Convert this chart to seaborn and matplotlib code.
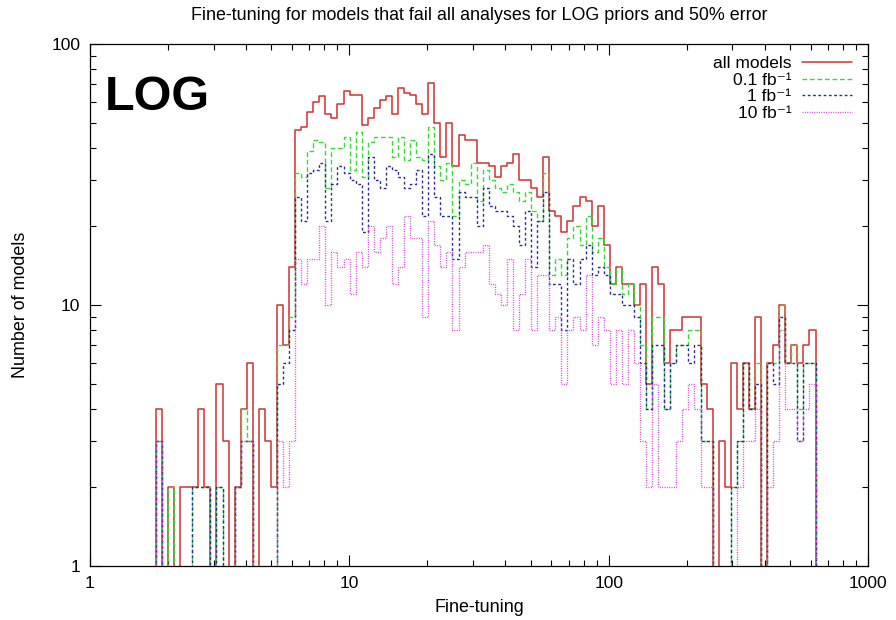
import numpy as np
import matplotlib
matplotlib.use('Agg')
import matplotlib.pyplot as plt
import seaborn as sns

# counts per log-spaced bin (109 bins, from ~1.8 to ~630)
all_models = [4, 0, 2, 0, 2, 2, 2, 4, 2, 0, 5, 3, 0, 2, 4, 6, 0, 4, 3, 2,
              10, 7, 14, 47, 48, 55, 60, 63, 54, 52, 59, 66, 64, 64, 49, 52, 57, 61, 63, 54,
              68, 65, 64, 59, 54, 71, 50, 37, 50, 34, 45, 43, 43, 35, 35, 34, 31, 34, 35, 38,
              30, 30, 28, 26, 37, 23, 22, 19, 21, 24, 26, 25, 20, 24, 17, 12, 14, 12, 12, 10,
              12, 5, 14, 12, 6, 8, 8, 9, 9, 9, 5, 4, 0, 3, 2, 6, 4, 6, 4, 9,
              0, 6, 7, 10, 6, 7, 6, 7, 8]
lumi_01 = [3, 0, 2, 0, 0, 0, 2, 2, 2, 0, 2, 0, 0, 2, 4, 3, 0, 0, 0, 0,
           7, 7, 9, 32, 31, 39, 43, 42, 28, 40, 40, 44, 33, 46, 31, 42, 44, 44, 44, 37,
           44, 36, 43, 37, 36, 48, 34, 30, 35, 22, 30, 29, 35, 25, 33, 30, 28, 27, 29, 27,
           25, 27, 23, 21, 32, 13, 15, 13, 18, 20, 17, 22, 16, 18, 14, 12, 14, 11, 12, 10,
           7, 4, 9, 9, 4, 6, 7, 7, 8, 8, 3, 3, 0, 0, 0, 2, 3, 6, 4, 6,
           0, 6, 6, 10, 6, 7, 4, 6, 6]
lumi_1 = [3, 0, 0, 0, 0, 0, 2, 2, 2, 0, 2, 0, 0, 2, 3, 3, 0, 0, 0, 0,
          5, 6, 8, 26, 21, 32, 33, 35, 21, 29, 34, 32, 30, 29, 19, 37, 30, 28, 34, 33,
          31, 28, 29, 33, 22, 38, 26, 22, 22, 15, 27, 26, 26, 20, 28, 24, 23, 23, 22, 20,
          17, 23, 14, 21, 27, 12, 12, 8, 15, 12, 15, 17, 13, 14, 13, 11, 11, 10, 10, 9,
          6, 4, 7, 7, 4, 6, 7, 7, 6, 7, 3, 3, 0, 0, 0, 2, 3, 6, 4, 5,
          0, 6, 5, 9, 6, 6, 3, 6, 6]
lumi_10 = [3, 0, 0, 0, 0, 0, 0, 0, 0, 0, 0, 0, 0, 2, 3, 3, 0, 0, 0, 0,
           3, 2, 3, 15, 12, 15, 15, 20, 10, 16, 14, 15, 11, 16, 14, 20, 16, 18, 20, 12,
           14, 22, 18, 18, 9, 21, 17, 14, 16, 8, 14, 16, 16, 16, 17, 12, 11, 10, 15, 8,
           11, 15, 8, 13, 13, 8, 9, 5, 8, 9, 8, 13, 7, 9, 8, 5, 8, 5, 8, 6,
           3, 2, 5, 2, 2, 2, 3, 4, 5, 4, 2, 2, 0, 0, 0, 0, 2, 3, 3, 4,
           0, 2, 3, 8, 4, 4, 3, 4, 5]

labels = ['all models', '0.1 fb⁻¹', '1 fb⁻¹', '10 fb⁻¹']
colors = ['#d03232', '#3ad83a', '#2a2a9c', '#cc44cc']
xticks = [1, 10, 100, 1000]
yticks = [1, 10, 100]

# bin edges: log10 start and width, one empty bin padded on each side
lo, w = 0.2545, 0.02333
n = len(all_models)
edges = 10 ** (lo + w * np.arange(-1, n + 2))
centers = np.sqrt(edges[:-1] * edges[1:])

sns.set_style('ticks')
plt.rcParams['font.family'] = ['Liberation Sans', 'DejaVu Sans']
for k in ['text.color', 'axes.labelcolor', 'xtick.color', 'ytick.color', 'axes.edgecolor']:
    plt.rcParams[k] = 'black'

fig = plt.figure(figsize=(8.96, 6.2), dpi=100)
ax = fig.add_axes([0.1004, 0.0871, 0.8684, 0.8419])

styles = [dict(linestyle='-', linewidth=1.1),
          dict(dashes=(3.4, 2.0), linewidth=1.0),
          dict(dashes=(2.0, 1.8), linewidth=1.0),
          dict(dashes=(0.7, 1.0), linewidth=1.0)]
for counts, c, st in zip([all_models, lumi_01, lumi_1, lumi_10], colors, styles):
    sns.histplot(x=centers, weights=np.r_[0, counts, 0], bins=list(edges),
                 element='step', fill=False, color=c, ax=ax, **st)

ax.set_xscale('log')
ax.set_yscale('log')
ax.set_xlim(1, 1000)
ax.set_ylim(1, 100)
ax.set_xticks(xticks)
ax.set_xticklabels([str(t) for t in xticks])
ax.set_yticks(yticks)
ax.set_yticklabels([str(t) for t in yticks])
ax.tick_params(which='both', direction='in', top=True, right=True, labelsize=12.5, pad=7)
ax.tick_params(which='major', length=8, width=0.8)
ax.tick_params(which='minor', length=4, width=0.8)
for s in ax.spines.values():
    s.set_visible(True)
    s.set_linewidth(0.9)

ax.set_title('Fine-tuning for models that fail all analyses for LOG priors and 50% error',
             fontsize=12.9, pad=17)
ax.set_xlabel('Fine-tuning', fontsize=12.9, labelpad=6)
ax.set_ylabel('Number of models', fontsize=12.9, labelpad=16)

ax.text(0.019, 0.94, 'LOG', transform=ax.transAxes, fontsize=35, fontweight='bold',
        va='top', ha='left')

ax.legend(ax.lines, labels, loc='upper right', markerfirst=False, frameon=False,
          fontsize=12.5, handlelength=2.9, handletextpad=0.6, labelspacing=0.08,
          borderaxespad=0.3, bbox_to_anchor=(0.995, 1.0))

fig.savefig('out.png', dpi=100)
